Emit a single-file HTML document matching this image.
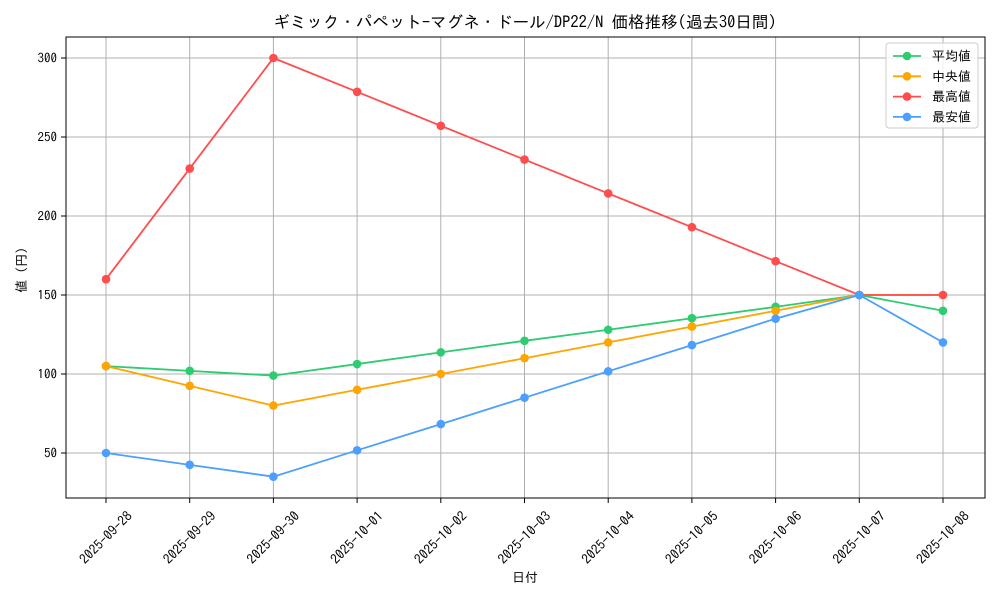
<!DOCTYPE html>
<html><head><meta charset="utf-8"><style>
body{margin:0;background:#fff}
svg{display:block;font-family:"IPAGothic","Liberation Sans","Noto Sans CJK JP",sans-serif}
</style></head><body>
<svg width="1000" height="600" viewBox="0 0 1000 600" xmlns="http://www.w3.org/2000/svg">
<rect width="1000" height="600" fill="#fff"/>
<g id="grid" stroke="#b0b0b0" stroke-width="1"></g>
<g id="series"></g>
<rect x="66" y="37" width="919" height="461" fill="none" stroke="#000" stroke-width="1"/>
<g id="ticks" font-size="13" fill="#000"></g>
<text x="525" y="28" font-size="16.5" text-anchor="middle">ギミック・パペット−マグネ・ドール/DP22/N 価格推移(過去30日間)</text>
<text x="525" y="582" font-size="13" text-anchor="middle">日付</text>
<text transform="translate(26,270) rotate(-90)" font-size="13" text-anchor="middle">値 (円)</text>
<g id="legend" font-size="13">
<rect x="886" y="43" width="92" height="85" rx="3" fill="#fff" fill-opacity="0.8" stroke="#ccc"/>
</g>
</svg>
<script>
const ns="http://www.w3.org/2000/svg";
function el(p,t,a,txt){const e=document.createElementNS(ns,t);for(const k in a)e.setAttribute(k,a[k]);if(txt)e.textContent=txt;p.appendChild(e);return e;}
const X=i=>106+i*83.7, Y=v=>453-(v-50)*1.58;
const dates=["2025-09-28","2025-09-29","2025-09-30","2025-10-01","2025-10-02","2025-10-03","2025-10-04","2025-10-05","2025-10-06","2025-10-07","2025-10-08"];
const g=document.getElementById("grid"),t=document.getElementById("ticks");
dates.forEach((d,i)=>{el(g,"line",{x1:X(i),x2:X(i),y1:37,y2:498});el(t,"line",{x1:X(i),x2:X(i),y1:498,y2:503,stroke:"#000"});
el(t,"text",{transform:`translate(${X(i)+27},517) rotate(-45)`,"text-anchor":"end","font-size":"13.5"},d);});
[50,100,150,200,250,300].forEach(v=>{el(g,"line",{x1:66,x2:985,y1:Y(v),y2:Y(v)});el(t,"line",{x1:61,x2:66,y1:Y(v),y2:Y(v),stroke:"#000"});
el(t,"text",{x:57,y:Y(v)+4.5,"text-anchor":"end"},v);});
const S=[["平均値","#2ecc71",[105,102,99,106.3,113.7,121,128,135.3,142.5,150,140]],
["中央値","#ffa500",[105,92.5,80,90,100,110,120,130,140,150,150]],
["最高値","#ff4d4d",[160,230,300,278.6,257.1,235.7,214.3,192.9,171.4,150,150]],
["最安値","#4d9fff",[50,42.5,35,51.7,68.3,85,101.7,118.3,135,150,120]]];
const sg=document.getElementById("series"),lg=document.getElementById("legend");
S.forEach((s,k)=>{el(sg,"polyline",{points:s[2].map((v,i)=>X(i)+","+Y(v)).join(" "),fill:"none",stroke:s[1],"stroke-width":1.8});
s[2].forEach((v,i)=>el(sg,"circle",{cx:X(i),cy:Y(v),r:4.3,fill:s[1]}));
const y=56+k*20.3;el(lg,"line",{x1:893,x2:921,y1:y,y2:y,stroke:s[1],"stroke-width":1.8});el(lg,"circle",{cx:907,cy:y,r:4.3,fill:s[1]});
el(lg,"text",{x:932,y:y+4.5},s[0]);});
</script>
</body></html>
